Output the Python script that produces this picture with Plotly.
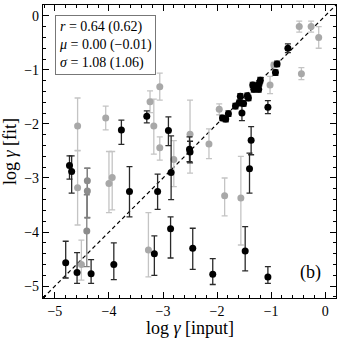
import plotly.graph_objects as go

# black points: input, fit, upper error, lower error
blk_x = [-4.73, -4.69, -3.77, -3.30, -2.90, -3.62, -3.10, -2.85, -2.86, -4.80,
         -4.59, -4.33, -3.91, -3.16, -2.51, -2.50, -2.45, -2.08, -1.48, -1.06,
         -1.37, -1.40, -1.90, -1.84, -1.79, -1.66, -1.59, -1.57, -1.54, -1.51,
         -1.44, -1.42, -1.34, -1.32, -1.27, -1.23, -1.22, -1.20, -1.06, -0.92,
         -0.89, -0.69]
blk_y = [-2.77, -2.88, -2.11, -1.86, -2.12, -3.25, -3.25, -2.90, -3.94, -4.57,
         -4.75, -4.77, -4.60, -4.40, -2.47, -2.52, -4.30, -4.78, -4.35, -4.83,
         -2.30, -2.83, -1.89, -1.91, -1.81, -1.67, -1.61, -1.49, -1.80, -1.62,
         -1.48, -1.52, -1.28, -1.36, -1.30, -1.36, -1.25, -1.19, -1.69, -1.05,
         -0.89, -0.60]
blk_up = [0.18, 0.29, 0.18, 0.10, 0.25, 0.46, 0.32, 0.68, 0.22, 0.40,
          0.37, 0.26, 0.40, 0.33, 0.23, 0.20, 0.37, 0.29, 0.45, 0.19,
          0.25, 0.29, 0.05, 0.05, 0.05, 0.05, 0.05, 0.05, 0.14, 0.05,
          0.05, 0.05, 0.05, 0.05, 0.05, 0.05, 0.05, 0.05, 0.12, 0.05,
          0.05, 0.08]
blk_dn = [0.25, 0.40, 0.27, 0.12, 0.28, 0.47, 0.33, 0.50, 0.54, 0.28,
          0.20, 0.18, 0.28, 0.40, 0.23, 0.20, 0.39, 0.19, 0.37, 0.12,
          0.27, 0.45, 0.05, 0.05, 0.05, 0.05, 0.05, 0.05, 0.14, 0.05,
          0.05, 0.05, 0.05, 0.05, 0.05, 0.05, 0.05, 0.05, 0.12, 0.05,
          0.05, 0.08]

# light grey points
gry_x = [-4.58, -4.58, -4.06, -4.00, -3.94, -3.24, -3.17, -3.06, -3.06, -2.80,
         -2.50, -2.15, -1.96, -1.86, -1.56, -1.02, -0.95, -0.44, -0.48, -0.26,
         -0.12, -3.27, -4.51]
gry_y = [-2.04, -3.18, -1.89, -3.10, -2.99, -1.59, -2.04, -1.31, -2.44, -2.66,
         -2.19, -2.37, -1.73, -3.33, -3.37, -1.28, -0.91, -1.07, -0.20, -0.20,
         -0.40, -4.33, -4.60]
gry_up = [0.52, 0.68, 0.22, 0.59, 0.48, 0.20, 0.50, 0.25, 0.20, 0.35,
          0.63, 0.28, 0.10, 0.33, 0.77, 0.16, 0.05, 0.11, 0.10, 0.10,
          0.20, 0.69, 0.45]
gry_dn = [0.45, 0.69, 0.22, 0.54, 0.60, 0.20, 0.52, 0.25, 0.23, 0.50,
          0.72, 0.27, 0.10, 0.37, 0.87, 0.16, 0.05, 0.11, 0.10, 0.10,
          0.20, 0.50, 0.29]

# mid grey points
mid_x = [-4.40, -4.40, -4.41]
mid_y = [-3.05, -3.24, -3.98]
mid_up = [0.23, 0.42, 0.67]
mid_dn = [0.68, 0.50, 0.66]

ax_range = [-5.22, 0.2]
tick_vals = [-5, -4, -3, -2, -1, 0]
tick_text = ['−5', '−4', '−3', '−2', '−1', '0']
serif = "Liberation Serif"

fig = go.Figure()

fig.add_trace(go.Scatter(
    x=ax_range, y=ax_range, mode='lines',
    line=dict(color='black', width=1.2, dash='4px,3px'),
    showlegend=False, hoverinfo='skip'
))

for xs, ys, up, dn, mcol, ecol in [
    (gry_x, gry_y, gry_up, gry_dn, '#a8a8a8', '#c4c4c4'),
    (mid_x, mid_y, mid_up, mid_dn, '#8c8c8c', '#808080'),
    (blk_x, blk_y, blk_up, blk_dn, 'black', '#2a2a2a'),
]:
    fig.add_trace(go.Scatter(
        x=xs, y=ys, mode='markers',
        marker=dict(size=7, color=mcol),
        error_y=dict(type='data', symmetric=False, array=up, arrayminus=dn,
                     color=ecol, thickness=1.3, width=3),
        showlegend=False
    ))

# invisible trace so the mirrored top/right axes get drawn
fig.add_trace(go.Scatter(x=ax_range, y=ax_range, xaxis='x2', yaxis='y2',
                         mode='markers', marker=dict(opacity=0),
                         showlegend=False, hoverinfo='skip'))

axis_common = dict(
    range=ax_range, showgrid=False, zeroline=False,
    showline=True, linecolor='black', linewidth=1.3,
    ticks='inside', ticklen=6, tickwidth=1, tickcolor='black',
    tickmode='array', tickvals=tick_vals,
    minor=dict(ticks='inside', ticklen=3, tickcolor='black', dtick=0.2, tick0=0),
)
label_font = dict(family=serif, size=14, color='black')
title_font = dict(family=serif, size=18, color='black')

fig.update_layout(
    width=342, height=340,
    margin=dict(l=43, r=6, t=5, b=42),
    plot_bgcolor='white', paper_bgcolor='white',
    xaxis=dict(axis_common, ticktext=tick_text, tickfont=label_font),
    yaxis=dict(axis_common, ticktext=tick_text, tickfont=label_font,
               title=dict(text='log <i>γ</i> [fit]', standoff=2, font=title_font)),
    xaxis2=dict(axis_common, overlaying='x', side='top', showticklabels=False),
    yaxis2=dict(axis_common, overlaying='y', side='right', showticklabels=False),
    annotations=[
        dict(xref='paper', yref='paper', x=0.5, y=-0.104, xanchor='center', yanchor='middle',
             text='log <i>γ</i> [input]', showarrow=False, font=title_font),
        dict(xref='paper', yref='paper', x=0.042, y=0.965, xanchor='left', yanchor='top',
             text='<i>r</i> = 0.64 (0.62)<br><i>μ</i> = 0.00 (−0.01)<br><i>σ</i> = 1.08 (1.06)',
             align='left', showarrow=False, bordercolor='#777777', borderwidth=1,
             borderpad=3, bgcolor='white',
             font=dict(family=serif, size=14, color='black')),
        dict(xref='paper', yref='paper', x=0.955, y=0.045, xanchor='right', yanchor='bottom',
             text='(b)', showarrow=False,
             font=dict(family=serif, size=18, color='black')),
    ],
)

# drop the default page margin so the figure sits at the window's corner
fig.write_html("out.html", config={'displayModeBar': False},
               post_script="document.body.style.margin='0';")
